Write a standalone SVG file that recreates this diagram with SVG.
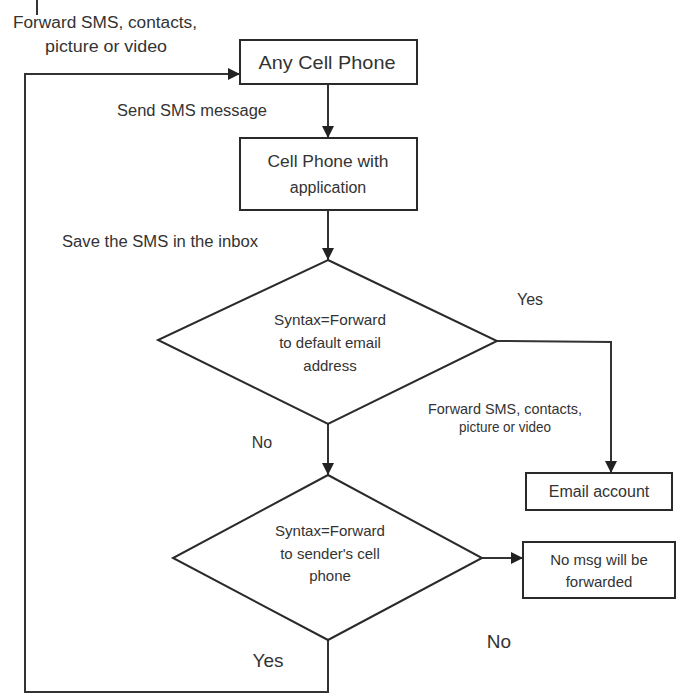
<svg xmlns="http://www.w3.org/2000/svg" width="680" height="698" viewBox="0 0 680 698">
<defs>
<style>
.box{fill:#fff;stroke:#2a2a2a;stroke-width:2}
.ln{fill:none;stroke:#333;stroke-width:2}
text{font-family:"Liberation Sans",Arial,sans-serif;fill:#333;text-anchor:middle}
.s{font-size:15px}
.m{font-size:16px}
.l{font-size:19px}
</style>
<marker id="ah" viewBox="0 0 10 10" refX="10" refY="5" markerWidth="6" markerHeight="6" orient="auto" markerUnits="strokeWidth">
<path d="M0,0 L10,5 L0,10 z" fill="#222"/>
</marker>
</defs>
<rect width="680" height="698" fill="#fff"/>
<g id="connectors">
<line class="ln" x1="37" y1="0" x2="37" y2="15"/>
<polyline class="ln" points="328,640 328,692 25,692 25,74 240,74" marker-end="url(#ah)"/>
<line class="ln" x1="328" y1="84" x2="328" y2="138" marker-end="url(#ah)"/>
<line class="ln" x1="328" y1="210" x2="328" y2="260" marker-end="url(#ah)"/>
<polyline class="ln" points="497,341 611,342 611,473" marker-end="url(#ah)"/>
<line class="ln" x1="328" y1="424" x2="328" y2="475" marker-end="url(#ah)"/>
<line class="ln" x1="482" y1="558" x2="523" y2="558" marker-end="url(#ah)"/>
</g>
<g id="labels">
<text class="m" x="105" y="28" textLength="184" lengthAdjust="spacingAndGlyphs">Forward SMS, contacts,</text>
<text class="m" x="106" y="52" textLength="122" lengthAdjust="spacingAndGlyphs">picture or video</text>
<text class="m" x="192" y="116" textLength="150" lengthAdjust="spacingAndGlyphs">Send SMS message</text>
<text class="m" x="160" y="247" textLength="196" lengthAdjust="spacingAndGlyphs">Save the SMS in the inbox</text>
<text class="m" x="530" y="305">Yes</text>
<text class="s" x="505" y="414" textLength="154" lengthAdjust="spacingAndGlyphs">Forward SMS, contacts,</text>
<text class="s" x="505" y="432" textLength="92" lengthAdjust="spacingAndGlyphs">picture or video</text>
<text class="m" x="262" y="448">No</text>
<text class="l" x="499" y="648">No</text>
<text class="l" x="268" y="667">Yes</text>
</g>
<g id="any-cell-phone">
<rect class="box" x="240" y="40" width="177" height="44"/>
<text class="l" x="327" y="69" textLength="137" lengthAdjust="spacingAndGlyphs">Any Cell Phone</text>
</g>
<g id="cell-phone-app">
<rect class="box" x="240" y="138" width="177" height="72"/>
<text class="m" x="328" y="167" textLength="121" lengthAdjust="spacingAndGlyphs">Cell Phone with</text>
<text class="m" x="328" y="193">application</text>
</g>
<g id="decision-email">
<polygon class="box" points="328,260 497,341 328,424 158,340"/>
<text class="s" x="330" y="325" textLength="112" lengthAdjust="spacingAndGlyphs">Syntax=Forward</text>
<text class="s" x="330" y="348">to default email</text>
<text class="s" x="330" y="371">address</text>
</g>
<g id="email-account">
<rect class="box" x="526" y="473" width="146" height="37"/>
<text class="m" x="599" y="497">Email account</text>
</g>
<g id="decision-sender">
<polygon class="box" points="328,475 482,558 328,640 173,558"/>
<text class="s" x="330" y="536" textLength="110" lengthAdjust="spacingAndGlyphs">Syntax=Forward</text>
<text class="s" x="330" y="559">to sender's cell</text>
<text class="s" x="330" y="581">phone</text>
</g>
<g id="no-msg">
<rect class="box" x="523" y="542" width="152" height="56"/>
<text class="s" x="599" y="565">No msg will be</text>
<text class="s" x="599" y="587">forwarded</text>
</g>
</svg>
